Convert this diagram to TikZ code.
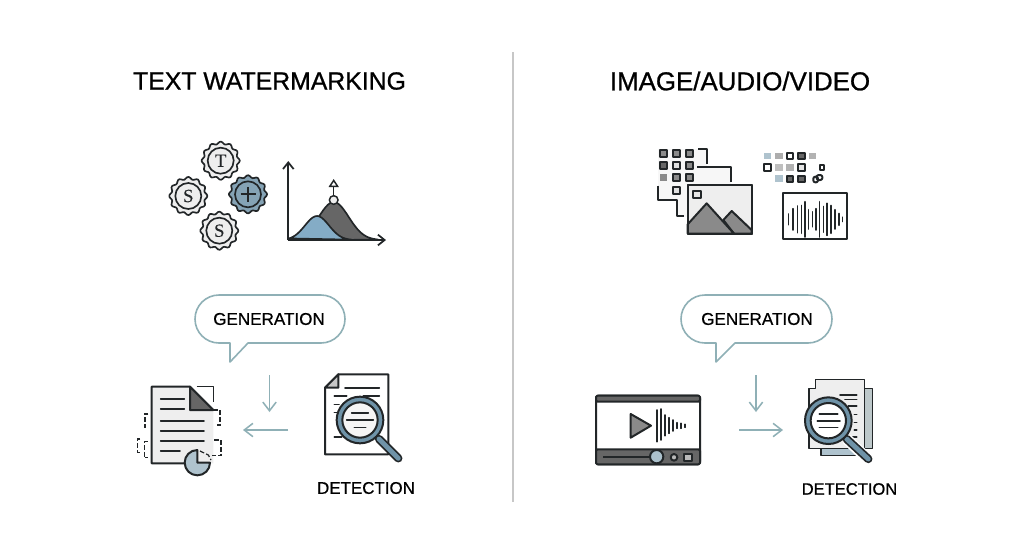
\documentclass[tikz,border=0pt]{standalone}
\usepackage{fontspec}
\setmainfont{Liberation Sans}
\usetikzlibrary{arrows.meta}
\definecolor{ink}{HTML}{222628}
\definecolor{teal}{HTML}{8FB0B6}
\definecolor{steel}{HTML}{6F93A8}
\definecolor{sky}{HTML}{84ACC6}
\definecolor{paper}{HTML}{EEEEEE}
\definecolor{midg}{HTML}{8A8A8A}
\definecolor{darkg}{HTML}{666666}
\definecolor{pale}{HTML}{AFC3CE}
\newfontface\medface{Liberation Sans}[FakeBold=0.6]
\newfontface\ttlface{Liberation Sans}[FakeBold=0.9]
\newfontface\gearface{Liberation Serif}[FakeBold=0.2]
\tikzset{
  ln/.style={draw=ink,line width=1.5pt,line join=round},
  thin ln/.style={draw=ink,line width=1.25pt,line cap=round},
  dsh/.style={draw=ink,line width=1pt,dash pattern=on 3.5pt off 1.6pt},
  flow/.style={draw=teal,line width=1.15pt,-{Straight Barb[length=6.5pt,width=10pt,line width=1.15pt]}},
  ax/.style={draw=ink,line width=1.3pt,-{Straight Barb[length=5pt,width=8pt,line width=1.3pt]}},
  bubble/.style={draw=teal,line width=1.2pt,fill=white,line join=round},
  lbl/.style={text=black,inner sep=0pt,font=\fontsize{12.8}{15}\medface},
  ttl/.style={text=black,inner sep=0pt},
  zm/.style={shift={#1},scale=1/3},
}
\newcommand{\mygear}[4]{% name x y fill
  \draw[ln,line width=1.25pt,fill=#4] plot[smooth cycle,samples=73,domain=0:355]
    ({#2+(17.9+1.2*cos(12*\x))*cos(\x)},{#3+(17.9+1.2*cos(12*\x))*sin(\x)});
  \node[circle,draw=ink,line width=1.25pt,minimum size=19.5pt,inner sep=0pt] (#1) at (#2,#3) {};
}
\begin{document}
\begin{tikzpicture}[x=.75pt,y=-.75pt]
\useasboundingbox[fill=white] (0,0) rectangle (1024,558);
% divider
\coordinate (divT) at (512.5,52); \coordinate (divB) at (512.5,502);
\draw[draw=black!22,line width=1.5pt] (divT)--(divB);
% titles
\node[ttl,font=\fontsize{18.6}{22}\ttlface] (t1) at (269.5,81) {TEXT WATERMARKING};
\node[ttl,font=\fontsize{19.4}{22}\ttlface] (t2) at (740,81) {IMAGE/AUDIO/VIDEO};
% gears
\mygear{g1}{220.7}{160.7}{paper}
\mygear{g2}{188.3}{196}{paper}
\mygear{g3}{248}{194.3}{steel!85}
\mygear{g4}{219.3}{230.7}{paper}
\node[font=\fontsize{14}{14}\gearface,text=ink,inner sep=0pt] (lt) at (g1) {T};
\node[font=\fontsize{14}{14}\gearface,text=ink,inner sep=0pt] (ls1) at (g2) {S};
\node[font=\fontsize{14}{14}\gearface,text=ink,inner sep=0pt] (ls2) at (g4) {S};
\draw[ln,line width=1.25pt] (240.5,194.3)--(255.5,194.3) (248,186.8)--(248,201.8);
% chart
\coordinate (o) at (288.3,240); \coordinate (ya) at (288.3,161); \coordinate (xa) at (386,240);
\draw[ln,line width=1.25pt,fill=darkg] plot[smooth,samples=30,domain=312:378] (\x,{240-38*exp(-((\x-333.7)/15)^2/2)}) -- (340,240) -- cycle;
\draw[ln,line width=1.25pt,fill=sky] plot[smooth,samples=30,domain=289:352] (\x,{240-24*exp(-((\x-317)/12)^2/2)}) -- cycle;
\draw[ax] (o)--(ya);
\draw[ax] (o)--(xa);
\node[circle,draw=ink,line width=1.1pt,fill=paper,minimum size=6.5pt,inner sep=0pt] (pk) at (333.7,200) {};
\coordinate (pkt) at (333.7,179);
\draw[draw=ink,line width=1.1pt,-{Triangle[open,length=6pt,width=7.5pt]}] (pk)--(pkt);
% bubbles
\draw[bubble] (219,295) -- (321,295) arc (-90:90:24) -- (248,343) -- (230,362) -- (230,343) -- (219,343) arc (90:270:24) -- cycle;
\node[lbl] (gen1) at (269,319) {GENERATION};
\draw[bubble] (705,295) -- (808,295) arc (-90:90:24) -- (735,343) -- (716,362) -- (716,343) -- (705,343) arc (90:270:24) -- cycle;
\node[lbl] (gen2) at (757,319) {GENERATION};
% flow arrows
\coordinate (a1) at (269.5,375); \coordinate (a2) at (269.5,412);
\coordinate (b1) at (288,430); \coordinate (b2) at (243,430);
\coordinate (c1) at (756,375); \coordinate (c2) at (756,412);
\coordinate (d1) at (739,430); \coordinate (d2) at (783,430);
\draw[flow] (a1)--(a2); \draw[flow] (b1)--(b2);
\draw[flow] (c1)--(c2); \draw[flow] (d1)--(d2);
% detection labels
\node[lbl,font=\fontsize{12.7}{15}\medface] (det1) at (366,488) {DETECTION};
\node[lbl,font=\fontsize{12.4}{15}\medface] (det2) at (849.5,489) {DETECTION};
% left document
\begin{scope}[zm={(125,365)}]
  \fill[paper] (80,65)--(195,65)--(265,135)--(265,295)--(80,295)--cycle;
  \draw[ln] (180,295)--(80,295)--(80,65)--(195,65)--(265,135);
  \draw[ln,fill=darkg] (195,65)--(265,135)--(195,135)--cycle;
  \draw[ln,line width=1.2pt] (215,65)--(265,65)--(265,110);
  \foreach \a/\b/\c in {107/178/102,107/178/132,107/237/168,107/237/198,107/237/228,107/165/258}
    \draw[thin ln] (\a,\c)--(\b,\c);
  \draw[dsh] (265,135)--(285,135)--(285,180)--(270,180);
  \draw[dsh] (70,147)--(60,147)--(60,190);
  \draw[dsh] (45,222)--(37,222)--(37,262)--(47,262);
  \draw[dsh] (68,230)--(58,230)--(58,278)--(68,278);
  \draw[dsh] (268,225)--(288,225)--(288,272)--(262,272);
  \draw[ln,fill=pale] (217,255) arc (-90:-360:38) -- (217,293) -- cycle;
  \draw[dsh,line width=.9pt] (225,258)--(250,270)--(258,285);
\end{scope}
% left magnifier doc
\begin{scope}[zm={(125,365)}]
  \draw[ln,fill=white] (640,28)--(790,28)--(790,268)--(600,268)--(600,68)--cycle;
  \draw[ln,fill=black!22] (640,28)--(640,68)--(600,68)--cycle;
  \foreach \a/\b/\c in {660/763/68,628/665/92,715/763/92,628/642/118,628/642/142,628/650/215}
    \draw[thin ln] (\a,\c)--(\b,\c);
  \draw[ink,line width=6.2pt,line cap=round] (762,222)--(820,280);
  \draw[steel,line width=3.6pt,line cap=round] (762,222)--(820,280);
  \draw[ln,fill=steel] (705,165) circle (70);
  \draw[ln,fill=black!4] (705,165) circle (53);
  \foreach \a/\b/\c in {680/730/143,665/745/165,688/722/187}
    \draw[thin ln] (\a,\c)--(\b,\c);
\end{scope}
% video player
\begin{scope}[zm={(585,365)}]
  \draw[ln,fill=white,rounded corners=2pt] (33,92) rectangle (345,298);
  \draw[ln,fill=darkg,rounded corners=1pt] (33,92) rectangle (345,110);
  \draw[ln,fill=darkg,rounded corners=1pt] (33,253) rectangle (345,298);
  \draw[ln,fill=midg] (137,147)--(137,218)--(198,182)--cycle;
  \foreach \x/\a/\b in {215/135/230,228/132/225,240/150/212,252/158/205,263/165/198,275/173/190,287/175/190,300/178/187}
    \draw[thin ln] (\x,\a)--(\x,\b);
  \draw[ln] (55,275)--(195,275);
  \draw[ln,fill=pale!90!teal] (215,275) circle (20);
  \draw[ln,fill=midg!60] (267,277) circle (10);
  \draw[ln,fill=midg!60] (298,268) rectangle (322,287);
\end{scope}
% right magnifier doc
\begin{scope}[zm={(585,365)}]
  \draw[ln,line width=1.2pt,fill=black!25!teal!45] (835,70) rectangle (862,250);
  \draw[ln,line width=1.2pt,fill=pale] (708,240) rectangle (838,272);
  \draw[ln,line width=1.2pt,fill=paper] (692,43)--(838,43)--(838,250)--(708,250)--(672,250)--(672,70)--(692,70)--cycle;
  \foreach \a/\b/\c in {765/815/90,780/815/103,790/815/122,808/815/148,808/815/172,808/815/195,790/815/215}
    \draw[thin ln] (\a,\c)--(\b,\c);
  \draw[white,line width=8.5pt] (785,222)--(850,284);
  \draw[ink,line width=6.2pt,line cap=round] (785,222)--(850,282);
  \draw[steel,line width=3.6pt,line cap=round] (785,222)--(850,282);
  \draw[ln,fill=steel] (730,167) circle (70);
  \draw[ln,fill=white] (730,167) circle (53);
  \foreach \a/\b/\c in {703/758/147,697/765/167,703/758/187}
    \draw[thin ln] (\a,\c)--(\b,\c);
\end{scope}
% layered images
\begin{scope}[zm={(640,135)}]
  \fill[black!3] (55,42) rectangle (200,195);
  \fill[black!3] (112,97) rectangle (272,245);
  \foreach \x/\y/\f in {70/55/midg,110/55/midg,148/55/midg,70/92/darkg,110/92/black!12,148/92/midg,110/128/midg,148/128/midg,110/167/black!12}
    \draw[ln,fill=\f] (\x-10.5,\y-10) rectangle (\x+10.5,\y+10);
  \fill[midg] (60,118) rectangle (81,139);
  \draw[ln] (175,42)--(200,42)--(200,88);
  \draw[ln] (172,97)--(272,97)--(272,140);
  \draw[ln] (55,152)--(55,195)--(112,195)--(112,243)--(132,243);
  \draw[ln,fill=paper] (143,150) rectangle (335,296);
  \draw[ln,fill=black!10] (160,167) rectangle (182,188);
  \draw[ln,fill=midg] (250,255)--(275,228)--(335,285)--(335,296)--(282,296)--cycle;
  \draw[ln,fill=midg] (143,268)--(200,205)--(282,296)--(143,296)--cycle;
  \draw[ln] (143,150) rectangle (335,296);
  % scattered squares
  \foreach \x/\y/\f in {382/63/pale,417/63/black!32,518/63/black!30,417/97/black!25,450/97/black!30,417/131/pale}
    \fill[\f] (\x-11,\y-10) rectangle (\x+11,\y+10);
  \foreach \x/\y/\f/\s in {450/63/white/9.5,484/63/darkg/9.5,382/97/white/9.5,484/97/black!10/9.5,546/98/white/7,450/131/darkg/9.5,484/131/darkg/9.5}
    \draw[ln,fill=\f] (\x-\s,\y-\s) rectangle (\x+\s,\y+\s);
  \draw[ln,rounded corners=1.5pt] (520,125) rectangle (534,142);
  \draw[ln,rounded corners=1.5pt] (530,120) rectangle (547,135);
  % audio box
  \draw[ln,fill=white] (430,175) rectangle (620,312);
  \foreach \x/\h in {445/10,458/20,472/25,484/26,495/33,505/18,517/14,528/20,538/33,550/24,561/30,573/26,585/18,597/11,607/4}
    \draw[thin ln] (\x,253-\h*1.6)--(\x,253+\h*1.6);
\end{scope}
\end{tikzpicture}
\end{document}
